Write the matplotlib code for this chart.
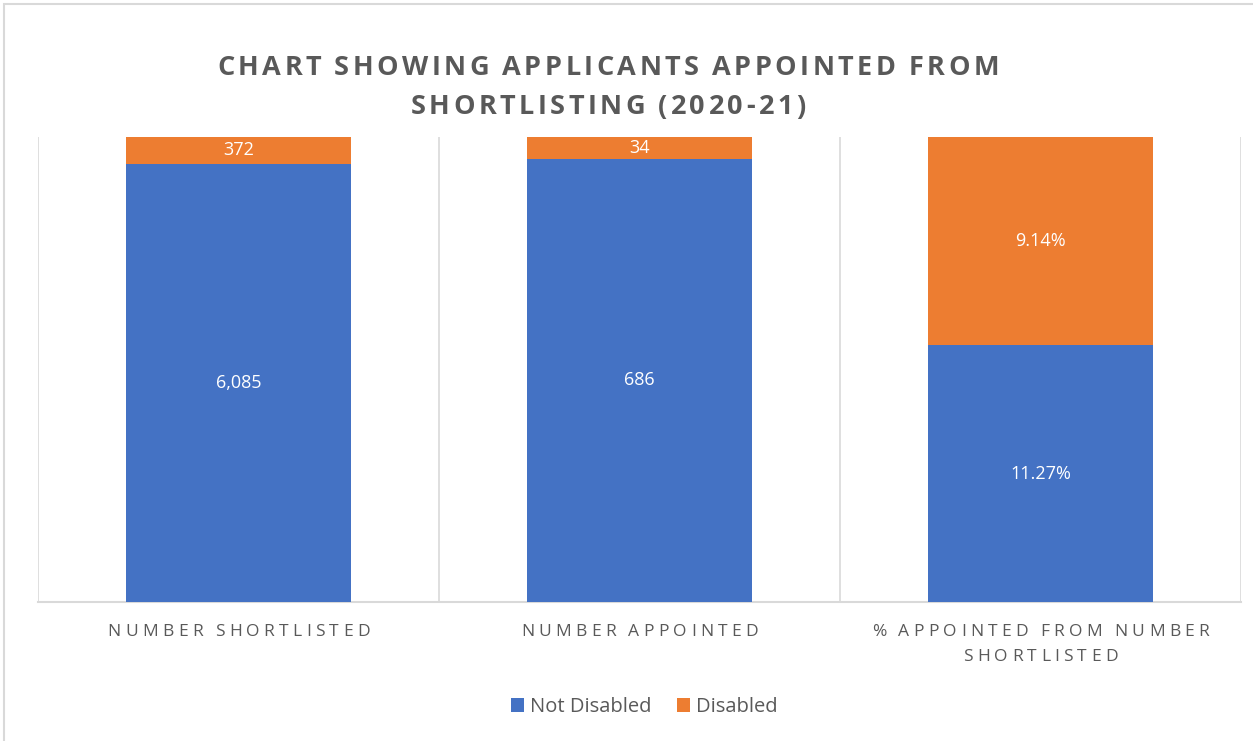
import numpy as np
import matplotlib
matplotlib.use("Agg")
import matplotlib.pyplot as plt
from matplotlib.patches import Rectangle
from matplotlib.font_manager import FontProperties

plt.rcParams['font.family'] = ['Open Sans', 'DejaVu Sans']

categories = ["NUMBER SHORTLISTED", "NUMBER APPOINTED",
              "% APPOINTED FROM NUMBER\nSHORTLISTED"]
not_disabled = [6085, 686, 11.27]
disabled = [372, 34, 9.14]
label_fmt = ["{:,.0f}", "{:,.0f}", "{:.2f}%"]
series_names = ["Not Disabled", "Disabled"]
title_lines = ["CHART SHOWING APPLICANTS APPOINTED FROM", "SHORTLISTING (2020-21)"]

blue = "#4472C4"
orange = "#ED7D31"
grey_text = "#595959"

W, H = 1253, 741

# 100% stacked: share of each column
totals = np.array(not_disabled) + np.array(disabled)
nd_share = np.array(not_disabled) / totals
d_share = np.array(disabled) / totals

fig = plt.figure(figsize=(W / 100, H / 100), dpi=100)
renderer = fig.canvas.get_renderer()


# excel style letter spacing: place characters one by one
def spaced_text(cx, baseline, s, tracking, space_scale=0.8, **kw):
    prop = FontProperties(family=plt.rcParams['font.family'],
                          size=kw.get("fontsize", 12),
                          weight=kw.get("fontweight", "normal"))
    widths = []
    for ch in s:
        wd = renderer.get_text_width_height_descent(ch, prop, ismath=False)[0]
        if ch == " ":
            wd *= space_scale
        widths.append(wd)
    total = sum(widths) + tracking * (len(s) - 1)
    xp = cx - total / 2
    for ch, wd in zip(s, widths):
        if ch != " ":
            fig.text(xp / W, 1 - baseline / H, ch, ha="left", va="baseline", **kw)
        xp += wd + tracking


# outer chart frame
fig.patches.append(Rectangle((4 / W, -0.1), 1.2, 1 - 4 / H + 0.1,
                             transform=fig.transFigure, fill=False,
                             edgecolor="#D9D9D9", linewidth=1.5))

ax = fig.add_axes([38 / W, 1 - 602 / H, (1241 - 38) / W, (602 - 137) / H])

x = np.arange(len(categories))
w = 0.56
ax.bar(x, nd_share, width=w, color=blue, label=series_names[0], zorder=3)
ax.bar(x, d_share, width=w, bottom=nd_share, color=orange, label=series_names[1], zorder=3)

for i in range(len(categories)):
    ax.text(x[i], nd_share[i] / 2, label_fmt[i].format(not_disabled[i]),
            ha="center", va="center", color="white", fontsize=13, zorder=4)
    ax.text(x[i], nd_share[i] + d_share[i] / 2, label_fmt[i].format(disabled[i]),
            ha="center", va="center", color="white", fontsize=13, zorder=4)

ax.set_xlim(-0.5, len(categories) - 0.5)
ax.set_ylim(0, 1)
ax.set_yticks([])
ax.set_xticks([])
for b in np.arange(-0.5, len(categories), 1.0):
    ax.axvline(b, color="#D9D9D9", linewidth=1.2, zorder=1)
for s in ["top", "left", "right"]:
    ax.spines[s].set_visible(False)
ax.spines["bottom"].set_color("#D9D9D9")
ax.spines["bottom"].set_linewidth(1.5)

# category labels
for i, cat in enumerate(categories):
    cx = ax.transData.transform((x[i], 0))[0]
    for j, line in enumerate(cat.split("\n")):
        spaced_text(cx, 636 + 25 * j, line, 4.3, fontsize=12.5, color=grey_text)

# title
for j, line in enumerate(title_lines):
    spaced_text(608, 75 + 39 * j, line, 3.5, fontsize=19.5, fontweight="bold",
                color=grey_text)

fig.legend(loc="center", bbox_to_anchor=(644 / W, 1 - 707 / H), ncol=2, frameon=False,
           fontsize=14.5, handlelength=0.65, handleheight=0.65, handletextpad=0.3,
           columnspacing=1.25, labelcolor=grey_text)

fig.savefig("out.png", dpi=100, facecolor="white")
